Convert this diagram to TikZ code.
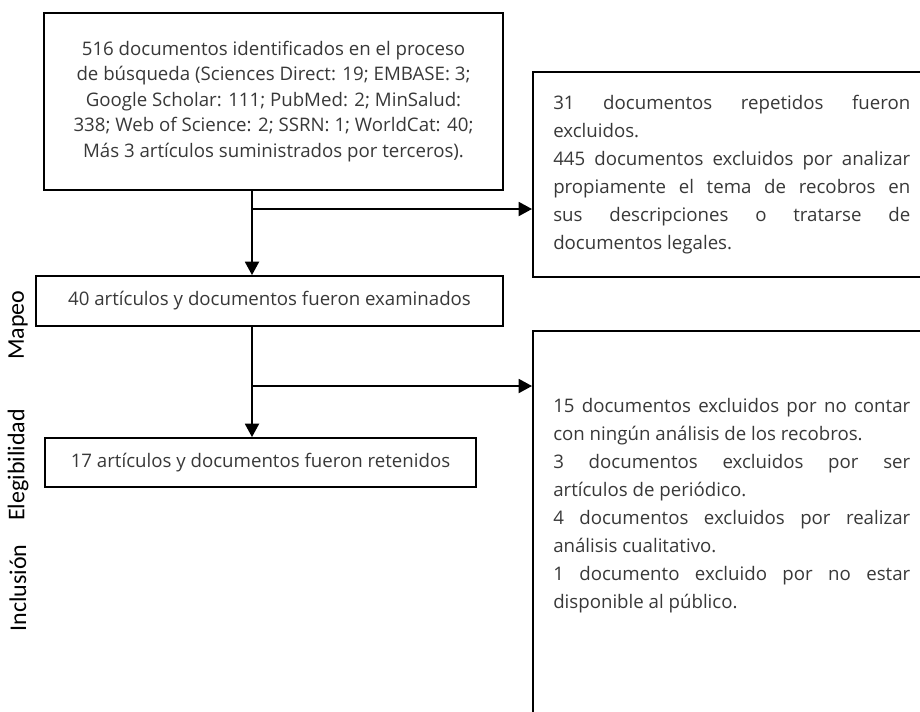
\documentclass[tikz,border=0pt]{standalone}
\usepackage{fontspec}
\setmainfont{Open Sans}
\newfontfamily\labelfont{Carlito}
\usetikzlibrary{arrows.meta}
\newlength\jw
\setlength\jw{267.75pt}
\definecolor{txt}{gray}{0.22}
\begin{document}
\begin{tikzpicture}[x=0.75pt,y=-0.75pt,
  box/.style={draw, line width=1.4pt, inner sep=0pt, text=txt,
    font=\fontsize{14}{19.1}\selectfont, align=center},
  jtext/.style={inner sep=0pt, text=txt, text width=\jw, align=justify,
    font=\fontsize{14}{21}\selectfont},
  arr/.style={line width=1.4pt, -{Triangle[length=10pt,width=10.5pt]}},
  lab/.style={rotate=90, inner sep=0pt, font=\labelfont\fontsize{18}{20}\selectfont}]
\useasboundingbox (0,0) rectangle (920,711);
\clip (0,0) rectangle (920,711);

\node[box, minimum width=344.25pt, minimum height=132.75pt] (top) at (273.5,101.5)
  {516 documentos identificados en el proceso\\de búsqueda (Sciences Direct: 19; EMBASE: 3;\\Google Scholar: 111; PubMed: 2; MinSalud:\\338; Web of Science: 2; SSRN: 1; WorldCat: 40;\\Más 3 artículos suministrados por terceros).};

\node[box, minimum width=350.25pt, minimum height=37.5pt] (b40) at (269.5,301)
  {40 artículos y documentos fueron examinados};

\node[box, minimum width=323.25pt, minimum height=36.75pt] (b17) at (260.5,462.5)
  {17 artículos y documentos fueron retenidos};

\node[draw, line width=1.4pt, anchor=north west, minimum width=306pt, minimum height=153.75pt] (ex1) at (532,71) {};
\node[jtext, anchor=north west] (ex1t) at (553,95)
  {\spaceskip=0pt \xspaceskip=0pt
   \makebox[\jw][s]{31 documentos repetidos fueron}\\
   excluidos.\\
   \makebox[\jw][s]{445 documentos excluidos por analizar}\\
   \makebox[\jw][s]{propiamente el tema de recobros en}\\
   \makebox[\jw][s]{sus descripciones o tratarse de}\\
   documentos legales.};

\node[draw, line width=1.4pt, anchor=north west, minimum width=306pt, minimum height=310pt] (ex2) at (532,330) {};
\node[jtext, anchor=north west] (ex2t) at (553,398)
  {\spaceskip=0pt \xspaceskip=0pt
   \makebox[\jw][s]{15 documentos excluidos por no contar}\\
   con ningún análisis de los recobros.\\
   \makebox[\jw][s]{3 documentos excluidos por ser}\\
   artículos de periódico.\\
   \makebox[\jw][s]{4 documentos excluidos por realizar}\\
   análisis cualitativo.\\
   \makebox[\jw][s]{1 documento excluido por no estar}\\
   disponible al público.};

\coordinate (j1) at (252,209);
\coordinate (j2) at (252,386);
\draw[arr] (top.south -| j1) -- (b40.north -| j1);
\draw[arr] (j1) -- (j1 -| ex1.west);
\draw[arr] (b40.south -| j2) -- (b17.north -| j2);
\draw[arr] (j2) -- (j2 -| ex2.west);

\node[lab] (l1) at (18,325) {Mapeo};
\node[lab] (l2) at (18,465) {Elegibilidad};
\node[lab] (l3) at (18,588) {Inclusión};
\end{tikzpicture}
\end{document}
